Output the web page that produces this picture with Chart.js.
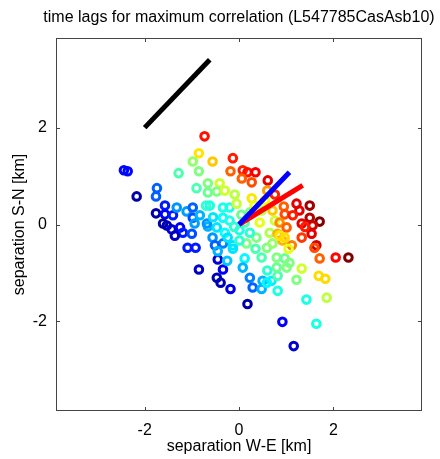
<!DOCTYPE html>
<html>
<head>
<meta charset="utf-8">
<title>time lags for maximum correlation</title>
<script src="https://cdn.jsdelivr.net/npm/chart.js@4.4.1/dist/chart.umd.min.js"></script>
<style>
  html, body { margin: 0; padding: 0; background: #fff; }
  #wrap { width: 440px; height: 459px; }
</style>
</head>
<body>
<div id="wrap"><canvas id="lags" width="440" height="459"></canvas></div>
<script>
// station separations [km] and the time lag value used for the colour (0..1 on jet)
var sepWE = [
    -2.44, -2.36, -2.17, -1.74, -1.76, -1.57, -1.76, -1.57, -1.40, -1.32,
    -1.11, -0.98, -1.61, -1.53, -1.43, -1.25, -1.19, -1.36, -1.00, -0.94,
    -1.09, -0.92, -0.85, -0.45, -0.34, -0.47, -0.39, -0.18, -0.66, -0.56,
    -0.34, -0.13, -0.51, 0.12, 0.23, 0.50, 0.69, 0.08, 0.29, 0.48,
    0.59, 0.82, 0.82, 0.80, 1.01, 1.22, 1.33, 0.18, 1.43, 1.69,
    1.83, 1.86, 0.92, 1.64, 1.16, -0.98, -0.70, -0.68, -0.47, -0.34,
    -0.20, 0.01, -0.13, 0.48, 0.37, 0.23, 0.44, 0.65, 0.76, 0.59,
    0.71, 0.16, -0.62, -0.34, -0.20, -0.73, -0.85, -0.98, -0.56, -0.85,
    -1.28, -0.13, -0.18, 0.08, 0.18, 0.35, 0.61, 0.06, 0.27, -0.66,
    -0.41, -0.90, -0.66, -0.47, -0.30, -0.09, 0.27, -0.05, 0.76, 0.71,
    0.95, 1.22, 1.50, 1.28, 0.97, 1.14, 1.50, 1.71, 0.86, 1.01,
    1.33, 1.56, 0.82, 0.92, 1.12, 1.33, 1.54, 1.64, 1.60, 1.71,
    2.05, 2.32, 0.80, 0.97, 1.07, 0.86, 0.97, -0.30, 0.01, -0.24,
    0.12, 0.23, 0.48, 0.33, 0.55, -0.83, -0.55, -0.10, 0.05, -0.45,
    0.35, 1.05, 1.40, 0.60, -0.25, 0.60
];
var sepSN = [
    1.12, 1.10, 0.58, 0.75, 0.58, 0.39, 0.23, 0.21, 0.19, 0.35,
    0.27, 0.14, 0.02, -0.02, -0.10, -0.06, -0.17, -0.23, -0.19, 0.02,
    -0.48, -0.48, -0.93, -0.72, -0.93, -1.10, -1.20, -1.33, -0.04, -0.27,
    -0.39, -0.50, -0.43, -0.70, -1.10, -1.16, -1.16, -0.89, -1.30, -1.33,
    -1.20, -1.37, -1.06, -0.89, -0.89, -1.14, -0.91, -1.64, -1.55, -1.06,
    -1.12, -1.51, -2.01, -2.05, -2.51, 0.35, 0.39, 0.02, -0.06, 0.14,
    0.08, -0.12, -0.43, -0.68, -0.27, -0.17, 0.04, -0.17, 0.08, -0.48,
    -0.39, -0.39, 0.39, 0.35, 0.35, 1.82, 1.47, 1.30, 1.30, 1.10,
    1.06, 1.37, 1.10, 1.12, 1.08, 1.08, 0.91, 0.95, 0.87, 0.85,
    0.85, 0.75, 0.66, 0.68, 0.70, 0.62, 0.54, 0.43, 0.62, 0.29,
    0.37, 0.43, 0.39, 0.29, 0.21, 0.19, 0.14, 0.06, 0.04, -0.06,
    0.02, -0.02, -0.19, -0.33, -0.43, -0.27, -0.19, -0.43, -0.48, -0.70,
    -0.68, -0.68, -0.68, -0.70, -0.79, -0.23, -0.27, -0.17, -0.33, -0.27,
    0.04, 0.25, 0.29, 0.39, 0.50, 0.19, 0.15, -0.05, 0.20, -0.55,
    -0.50, -0.50, -0.05, 0.70, -0.75, -0.95
];
var lagValue = [
    0.13, 0.13, 0.04, 0.22, 0.22, 0.15, 0.04, 0.12, 0.15, 0.27,
    0.28, 0.20, 0.04, 0.05, 0.08, 0.12, 0.15, 0.06, 0.20, 0.28,
    0.15, 0.15, 0.07, 0.08, 0.12, 0.05, 0.05, 0.10, 0.30, 0.27,
    0.25, 0.35, 0.22, 0.37, 0.25, 0.30, 0.36, 0.30, 0.22, 0.30,
    0.37, 0.40, 0.45, 0.48, 0.50, 0.50, 0.58, 0.04, 0.40, 0.66,
    0.66, 0.56, 0.12, 0.40, 0.08, 0.22, 0.43, 0.27, 0.35, 0.38,
    0.40, 0.40, 0.35, 0.45, 0.50, 0.42, 0.60, 0.55, 0.58, 0.50,
    0.52, 0.50, 0.40, 0.40, 0.40, 0.86, 0.65, 0.52, 0.68, 0.50,
    0.45, 0.85, 0.78, 0.84, 0.86, 0.88, 0.90, 0.78, 0.80, 0.50,
    0.58, 0.45, 0.48, 0.50, 0.58, 0.56, 0.65, 0.57, 0.84, 0.68,
    0.78, 0.90, 0.97, 0.90, 0.80, 0.85, 0.95, 1.00, 0.74, 0.78,
    0.90, 0.92, 0.70, 0.70, 0.75, 0.82, 0.90, 0.92, 0.80, 0.78,
    0.87, 1.00, 0.50, 0.48, 0.50, 0.65, 0.66, 0.38, 0.42, 0.35,
    0.45, 0.50, 0.55, 0.60, 0.62, 0.30, 0.35, 0.42, 0.48, 0.30,
    0.45, 0.60, 0.85, 0.72, 0.32, 0.42
];

// direction lines
var refLineWE = [-2.0, -0.62];
var refLineSN = [2.0, 3.40];
var blueLineWE = [0, 1.07];
var blueLineSN = [0, 1.08];
var redLineWE = [0, 1.35];
var redLineSN = [0, 0.81];

var xTicks = [-2, 0, 2];
var yTicks = [-2, 0, 2];
var chartTitle = 'time lags for maximum correlation (L547785CasAsb10)';
var axisFont = '"Liberation Sans", Arial, Helvetica, sans-serif';

function jet(v) {
    function c(x) { return Math.round(255 * Math.max(0, Math.min(1, x))); }
    return 'rgb(' + c(1.5 - Math.abs(4 * v - 3)) + ',' + c(1.5 - Math.abs(4 * v - 2)) + ',' + c(1.5 - Math.abs(4 * v - 1)) + ')';
}

function toPoints(xs, ys) {
    var pts = [];
    for (var i = 0; i < xs.length; i++) pts.push({ x: xs[i], y: ys[i] });
    return pts;
}

// matlab style box with inward ticks, title centred over the axes
var boxTicks = {
    id: 'boxTicks',
    afterDatasetsDraw: function (chart) {
        var ctx = chart.ctx, a = chart.chartArea;
        var xs = chart.scales.x, ys = chart.scales.y;
        ctx.save();
        ctx.strokeStyle = '#444';
        ctx.lineWidth = 1;
        ctx.strokeRect(Math.round(a.left) + 0.5, Math.round(a.top) + 0.5,
            Math.round(a.right - a.left) - 1, Math.round(a.bottom - a.top) - 1);
        ctx.beginPath();
        xTicks.forEach(function (v) {
            var px = Math.round(xs.getPixelForValue(v)) + 0.5;
            ctx.moveTo(px, a.bottom); ctx.lineTo(px, a.bottom - 4);
            ctx.moveTo(px, a.top); ctx.lineTo(px, a.top + 4);
        });
        yTicks.forEach(function (v) {
            var py = Math.round(ys.getPixelForValue(v)) + 0.5;
            ctx.moveTo(a.left, py); ctx.lineTo(a.left + 4, py);
            ctx.moveTo(a.right, py); ctx.lineTo(a.right - 4, py);
        });
        ctx.stroke();

        ctx.fillStyle = '#000';
        ctx.font = '16px ' + axisFont;
        ctx.textAlign = 'center';
        ctx.textBaseline = 'middle';
        ctx.fillText(chartTitle, (a.left + a.right) / 2, 18);
        ctx.restore();
    }
};

new Chart(document.getElementById('lags'), {
    type: 'scatter',
    plugins: [boxTicks],
    data: {
        datasets: [
            {
                data: toPoints(refLineWE, refLineSN), showLine: true,
                borderColor: '#000', borderWidth: 5, pointRadius: 0, borderCapStyle: 'butt'
            },
            {
                data: toPoints(blueLineWE, blueLineSN), showLine: true,
                borderColor: '#0000ff', borderWidth: 5, pointRadius: 0
            },
            {
                data: toPoints(redLineWE, redLineSN), showLine: true,
                borderColor: '#ff0000', borderWidth: 5, pointRadius: 0
            },
            {
                data: toPoints(sepWE, sepSN),
                pointRadius: 3.8,
                pointBorderWidth: 3,
                pointBackgroundColor: 'rgba(0,0,0,0)',
                pointBorderColor: lagValue.map(jet)
            }
        ]
    },
    options: {
        responsive: false,
        animation: false,
        devicePixelRatio: 1,
        layout: { padding: { top: 38, right: 18, left: 0, bottom: 0 } },
        plugins: {
            legend: { display: false },
            tooltip: { enabled: false },
            title: { display: false }
        },
        scales: {
            x: {
                type: 'linear', min: -3.88, max: 3.88,
                afterBuildTicks: function (s) { s.ticks = xTicks.map(function (v) { return { value: v }; }); },
                afterFit: function (s) { s.height = 48; },
                grid: { display: false, drawTicks: false },
                border: { display: false },
                ticks: { color: '#000', padding: 10, font: { family: axisFont, size: 16 } },
                title: {
                    display: true, text: 'separation W-E [km]', color: '#000',
                    font: { family: axisFont, size: 16 }, padding: { bottom: 2.4, top: 0 }
                }
            },
            y: {
                type: 'linear', min: -3.85, max: 3.85,
                afterBuildTicks: function (s) { s.ticks = yTicks.map(function (v) { return { value: v }; }); },
                afterFit: function (s) { s.width = 56; },
                grid: { display: false, drawTicks: false },
                border: { display: false },
                ticks: { color: '#000', padding: 9, font: { family: axisFont, size: 16 } },
                title: {
                    display: true, text: 'separation S-N [km]', color: '#000',
                    font: { family: axisFont, size: 16 }, padding: { top: 10.4, bottom: 0 }
                }
            }
        }
    }
});
</script>
</body>
</html>
